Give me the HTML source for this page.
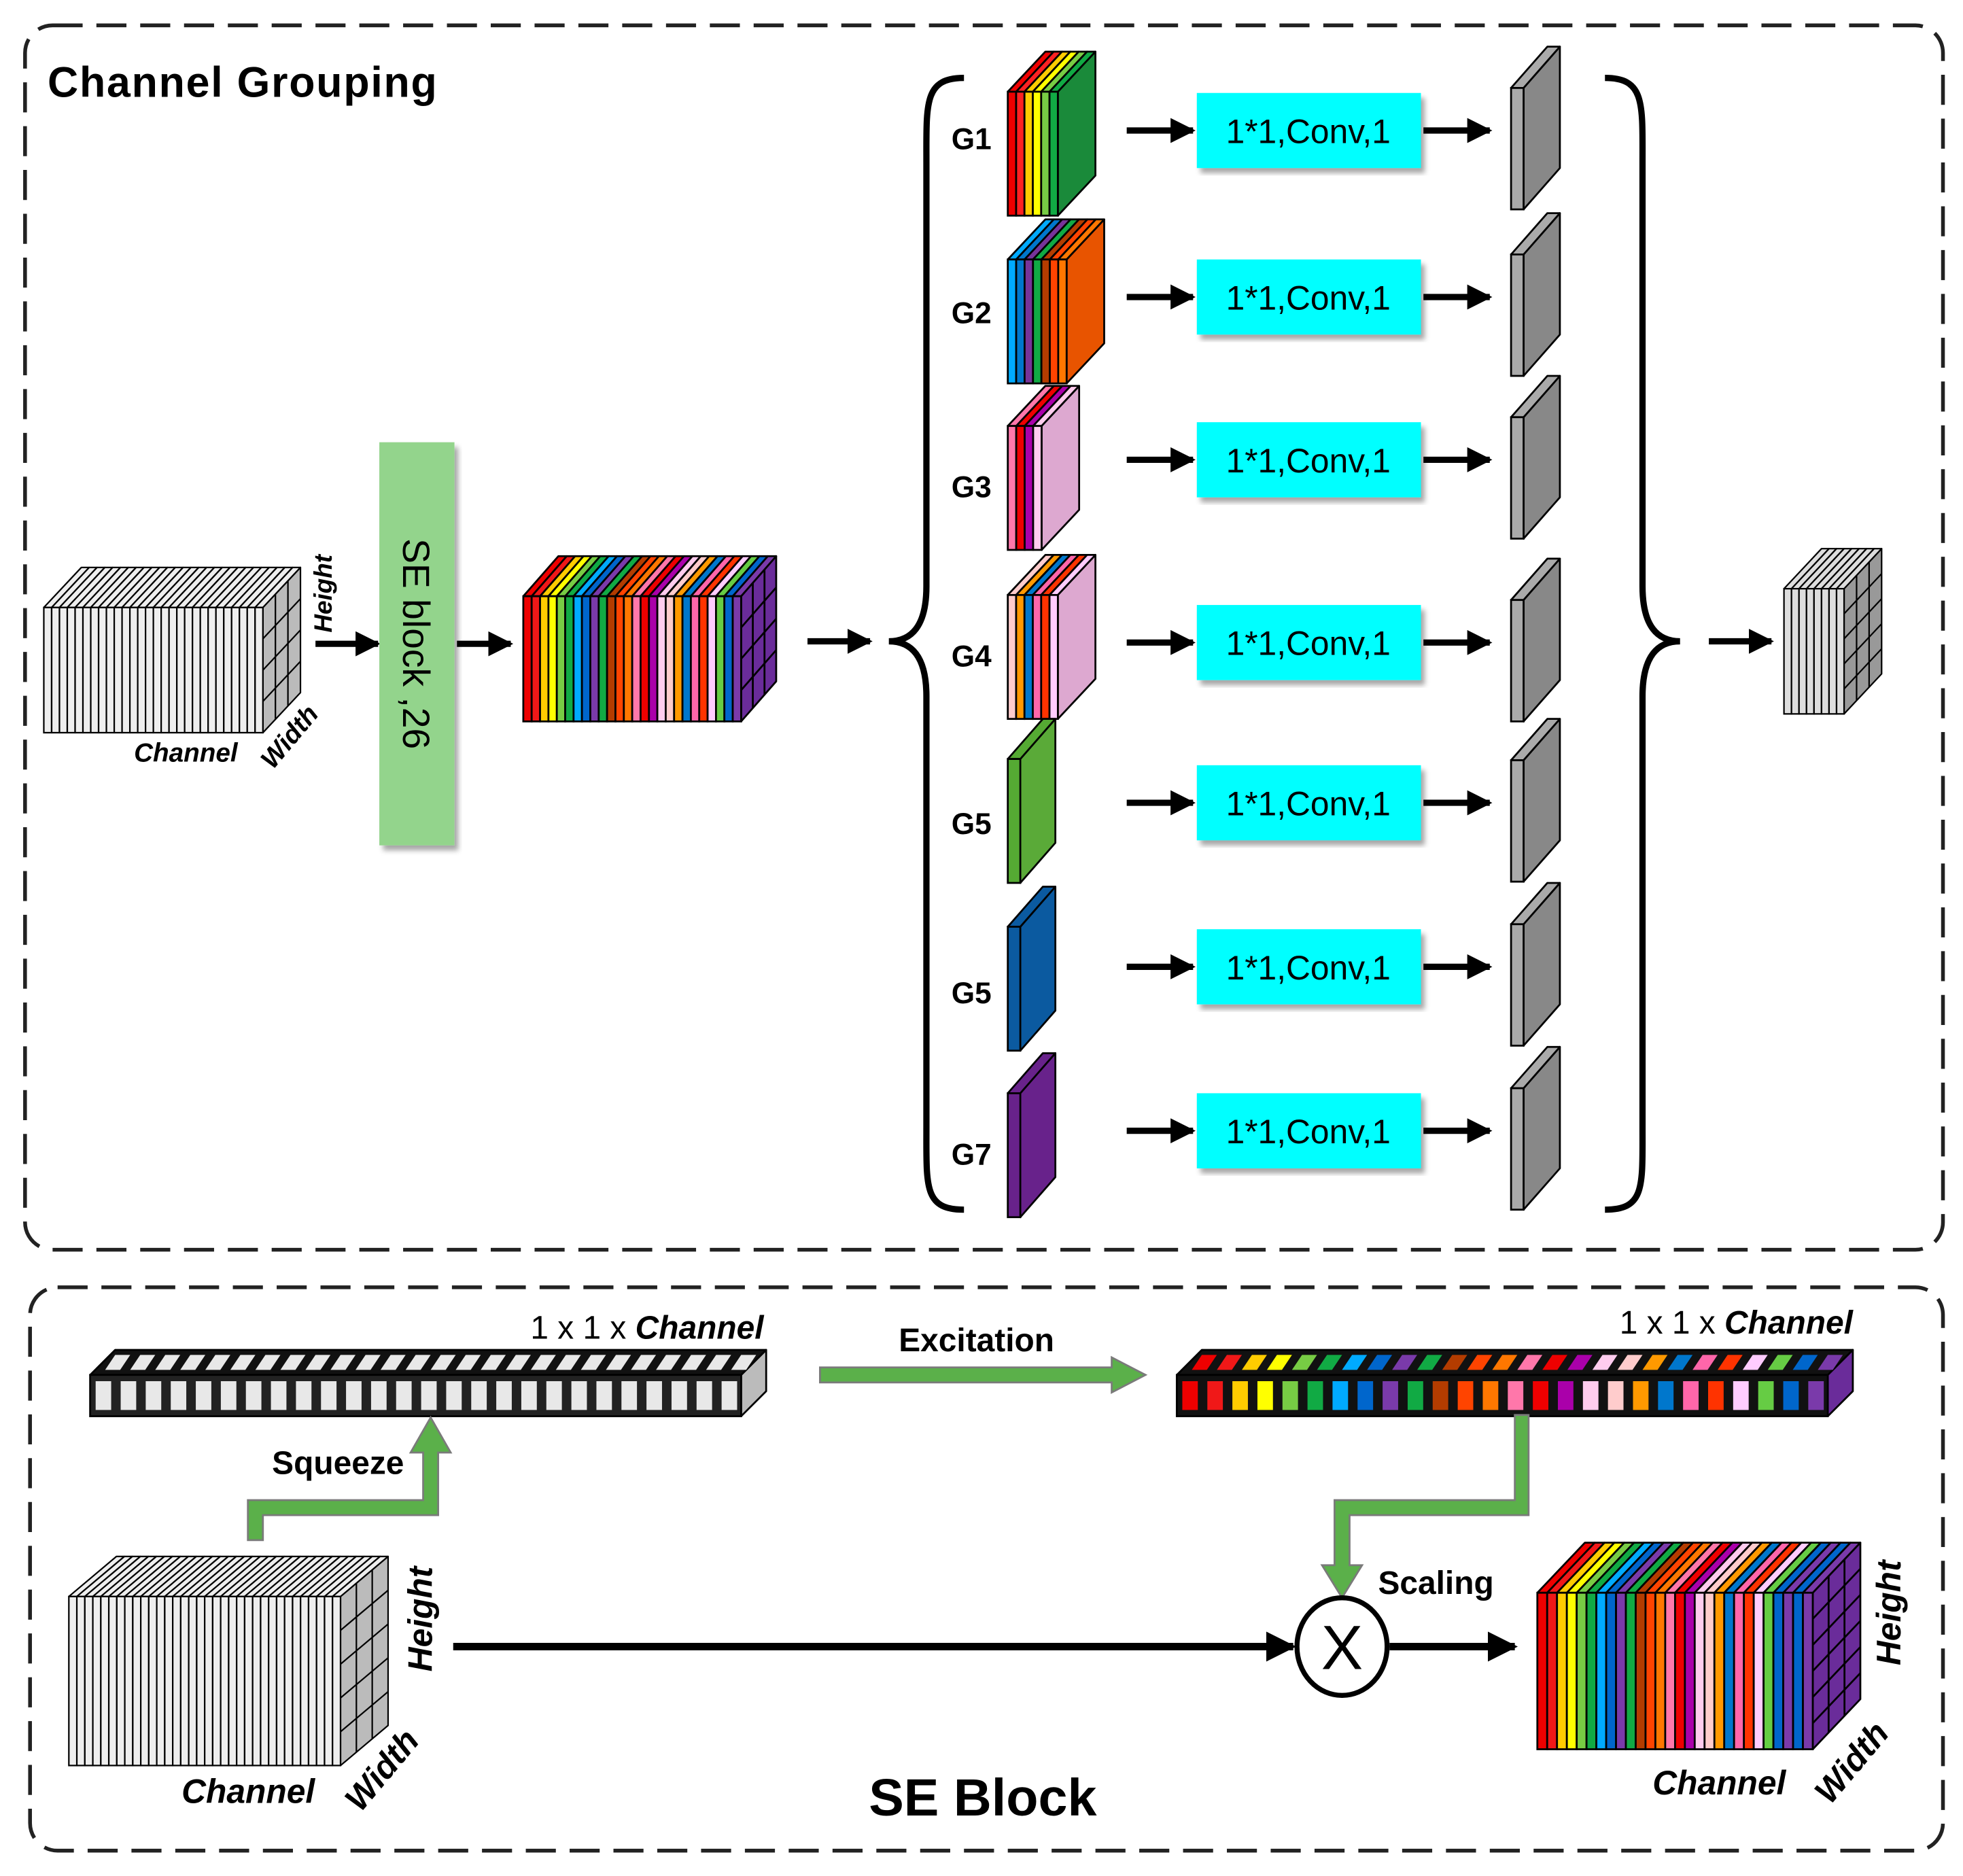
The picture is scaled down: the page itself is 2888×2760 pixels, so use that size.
<!DOCTYPE html>
<html><head><meta charset="utf-8"><style>
html,body{margin:0;padding:0;background:#fff}
svg{display:block}
text{font-family:"Liberation Sans",Arial,sans-serif}
</style></head><body>
<svg id="s" width="2888" height="2760" viewBox="0 0 1568 1498" xmlns="http://www.w3.org/2000/svg">
<defs>
<marker id="ah" viewBox="0 0 10 10" refX="9" refY="5" markerWidth="4" markerHeight="4" orient="auto" markerUnits="strokeWidth"><path d="M0,0L10,5L0,10z" fill="#000"/></marker>
<filter id="sh"><feDropShadow dx="3" dy="4" stdDeviation="2" flood-color="#000" flood-opacity="0.35"/></filter>
</defs>
<rect x="20" y="20" width="1532" height="978" rx="22" fill="none" stroke="#222" stroke-width="3" stroke-dasharray="24 11"/>
<rect x="24" y="1028" width="1528" height="450" rx="22" fill="none" stroke="#222" stroke-width="3" stroke-dasharray="24 11"/>
<text x="38" y="77" font-size="34" font-weight="bold" textLength="311">Channel Grouping</text>
<g id="g"></g>
<rect x="303" y="353" width="60" height="322" fill="#93d48c" filter="url(#sh)"/>
<text transform="translate(322,514) rotate(90)" font-size="30" text-anchor="middle">SE block ,26</text>
<text transform="translate(265,505) rotate(-90)" font-size="20" font-style="italic" font-weight="bold">Height</text>
<text x="107" y="608" font-size="21" font-style="italic" font-weight="bold">Channel</text>
<text transform="translate(218,615) rotate(-50)" font-size="21" font-style="italic" font-weight="bold">Width</text>
<path d="M770,62 C738,62 740,82 740,130 L740,468 C740,500 728,512 710,512 C728,512 740,524 740,556 L740,900 C740,948 738,966 770,966" fill="none" stroke="#000" stroke-width="5"/>
<path d="M1282,62 C1314,62 1312,82 1312,130 L1312,468 C1312,500 1324,512 1342,512 C1324,512 1312,524 1312,556 L1312,900 C1312,948 1314,966 1282,966" fill="none" stroke="#000" stroke-width="5"/>
<text x="610" y="1069" font-size="26" text-anchor="end">1 x 1 x <tspan font-style="italic" font-weight="bold">Channel</tspan></text>
<text x="1480" y="1065" font-size="26" text-anchor="end">1 x 1 x <tspan font-style="italic" font-weight="bold">Channel</tspan></text>
<text x="780" y="1079" font-size="26" font-weight="bold" text-anchor="middle">Excitation</text>
<text x="270" y="1177" font-size="26" font-weight="bold" text-anchor="middle">Squeeze</text>
<text x="1147" y="1273" font-size="26" font-weight="bold" text-anchor="middle">Scaling</text>
<text x="785" y="1450" font-size="42" font-weight="bold" text-anchor="middle">SE Block</text>
<text transform="translate(345,1335) rotate(-90)" font-size="27" font-style="italic" font-weight="bold">Height</text>
<text x="145" y="1440" font-size="27" font-style="italic" font-weight="bold">Channel</text>
<text transform="translate(288,1448) rotate(-50)" font-size="27" font-style="italic" font-weight="bold">Width</text>
<text transform="translate(1518,1330) rotate(-90)" font-size="27" font-style="italic" font-weight="bold">Height</text>
<text x="1320" y="1433" font-size="27" font-style="italic" font-weight="bold">Channel</text>
<text transform="translate(1462,1442) rotate(-50)" font-size="27" font-style="italic" font-weight="bold">Width</text>
<g fill="#5bb04a" stroke="#7a7a7a" stroke-width="1.5">
<path d="M655,1092 L888,1092 L888,1084 L915,1098 L888,1112 L888,1104 L655,1104z"/>
<path d="M198,1230 L198,1198 L338,1198 L338,1160 L328,1160 L344,1132 L360,1160 L350,1160 L350,1210 L210,1210 L210,1230z"/>
<path d="M1210,1130 L1221,1130 L1221,1210 L1078,1210 L1078,1250 L1088,1250 L1072,1276 L1056,1250 L1066,1250 L1066,1198 L1210,1198z"/>
</g>
<line x1="362" y1="1315" x2="1033" y2="1315" stroke="#000" stroke-width="6" marker-end="url(#ah)"/>
<ellipse cx="1072" cy="1315" rx="36" ry="39" fill="#fff" stroke="#000" stroke-width="4"/>
<text x="1072" y="1333" font-size="50" text-anchor="middle">X</text>
<line x1="1110" y1="1315" x2="1210" y2="1315" stroke="#000" stroke-width="6" marker-end="url(#ah)"/>
</svg>
<script>
var NS="http://www.w3.org/2000/svg",G=document.getElementById('g');
function el(t,a){var e=document.createElementNS(NS,t);for(var k in a)e.setAttribute(k,a[k]);G.appendChild(e);return e;}
function poly(p,f,sw){return el('polygon',{points:p.join(' '),fill:f,stroke:'#000','stroke-width':sw||1.5,'stroke-linejoin':'round'});}
var PAL=['#e00','#f01818','#fc0','#ff0','#7c4','#1a4','#0af','#06c','#7a3aaa','#1a4','#b43c00','#f40','#f70','#f7a','#e00','#a0a','#fce','#fcc','#f90','#07c','#f6a','#f30','#fcf','#6c4','#06c','#7a3aaa'];
function cube(x,y,w,h,dx,dy,cols,side,grid,sw){
  var n=cols.length,sw_=w/n;sw=sw||1.5;
  poly([[x+w,y],[x+w+dx,y+dy],[x+w+dx,y+h+dy],[x+w,y+h]],side,sw);
  if(grid){for(var i=1;i<grid;i++){var yy=y+h*i/grid;el('line',{x1:x+w,y1:yy,x2:x+w+dx,y2:yy+dy,stroke:'#000','stroke-width':sw});}
    for(var j=1;j<3;j++){var xx=x+w+dx*j/3,yo=dy*j/3;el('line',{x1:xx,y1:y+yo,x2:xx,y2:y+h+yo,stroke:'#000','stroke-width':sw});}}
  for(var i=0;i<n;i++){var a=x+i*sw_;
    poly([[a,y],[a+dx,y+dy],[a+sw_+dx,y+dy],[a+sw_,y]],cols[i],sw);
    el('rect',{x:a,y:y,width:sw_,height:h,fill:cols[i],stroke:'#000','stroke-width':sw});}
}
function rep(c,n){var r=[];for(var i=0;i<n;i++)r.push(c);return r;}
cube(35,485,175,100,30,-32,rep('#eee',28),'#bbb',4,1.2);
cube(418,476,174,100,28,-32,PAL,'#6a2c9a',4,1.5);
function arr(x1,y,x2){el('line',{x1:x1,y1:y,x2:x2,y2:y,stroke:'#000','stroke-width':5,'marker-end':'url(#ah)'});}
arr(252,514,302);arr(365,514,408);arr(645,512,695);arr(1365,512,1415);
var rows=[104,237,367,513,641,772,903],lab=['G1','G2','G3','G4','G5','G5','G7'];
var ly=[119,258,397,532,666,801,930];
var slabs=[
 [73,40,30,['#e00','#f22','#fc0','#ff0','#7c4','#1a4'],'#1a8a3a'],
 [207,47,30,['#0af','#07c','#739','#1a4','#b43c00','#f40','#f70'],'#e85400'],
 [340,27,30,['#f7a','#e00','#a0a','#fce'],'#dda8d0'],
 [475,40,30,['#fcc','#f90','#07c','#f6a','#f30','#fcf'],'#dda8d0'],
 [606,10,28,['#5a3'],'#5aaa38'],
 [740,10,28,['#0b5aa0'],'#0b5aa0'],
 [873,10,28,['#68228b'],'#68228b']];
for(var i=0;i<7;i++){var r=rows[i],s=slabs[i];
  var t=el('text',{x:760,y:ly[i],'font-size':24,'font-weight':'bold'});t.textContent=lab[i];
  cube(805,s[0],s[1],99,s[2],-32,s[3],s[4],0,1.5);
  arr(900,r,953);
  el('rect',{x:956,y:r-30,width:179,height:60,fill:'#00ffff',filter:'url(#sh)'});
  var tt=el('text',{x:1045,y:r+10,'font-size':27,'text-anchor':'middle'});tt.textContent='1*1,Conv,1';
  arr(1137,r,1190);
  cube(1207,r-34,10,97,29,-33,['#aaa'],'#888',0,1.5);
}
cube(1425,470,48,100,30,-32,rep('#ddd',8),'#999',5,1.2);
function vec(x,y,w,h,cols,bg,top){
  poly([[x+w,y],[x+w+20,y-20],[x+w+20,y+h-20],[x+w,y+h]],top,1.5);
  poly([[x,y],[x+20,y-20],[x+w+20,y-20],[x+w,y]],'#111',1.5);
  el('rect',{x:x,y:y,width:w,height:h,fill:bg,stroke:'#000','stroke-width':1.5});
  var n=cols.length,cw=w/n;
  for(var i=0;i<n;i++){var a=x+i*cw;
    el('rect',{x:a+cw*0.22,y:y+5,width:cw*0.62,height:h-10,fill:cols[i]});
    el('polygon',{points:[[a+cw*0.3+6,y-4],[a+cw*0.3+14,y-16],[a+cw*0.9+14,y-16],[a+cw*0.9+6,y-4]].join(' '),fill:cols[i]});}
}
vec(72,1098,520,33,rep('#e8e8e8',26),'#222','#bbb');
vec(940,1098,520,33,PAL,'#111','#6a2c9a');
cube(55,1275,217,135,38,-32,rep('#eee',34),'#bbb',5,1.2);
var P2=PAL.concat(['#06c','#7a3aaa']);
cube(1228,1272,220,125,38,-40,P2.slice(0,28),'#6a2c9a',6,1.5);
</script>
</body></html>
